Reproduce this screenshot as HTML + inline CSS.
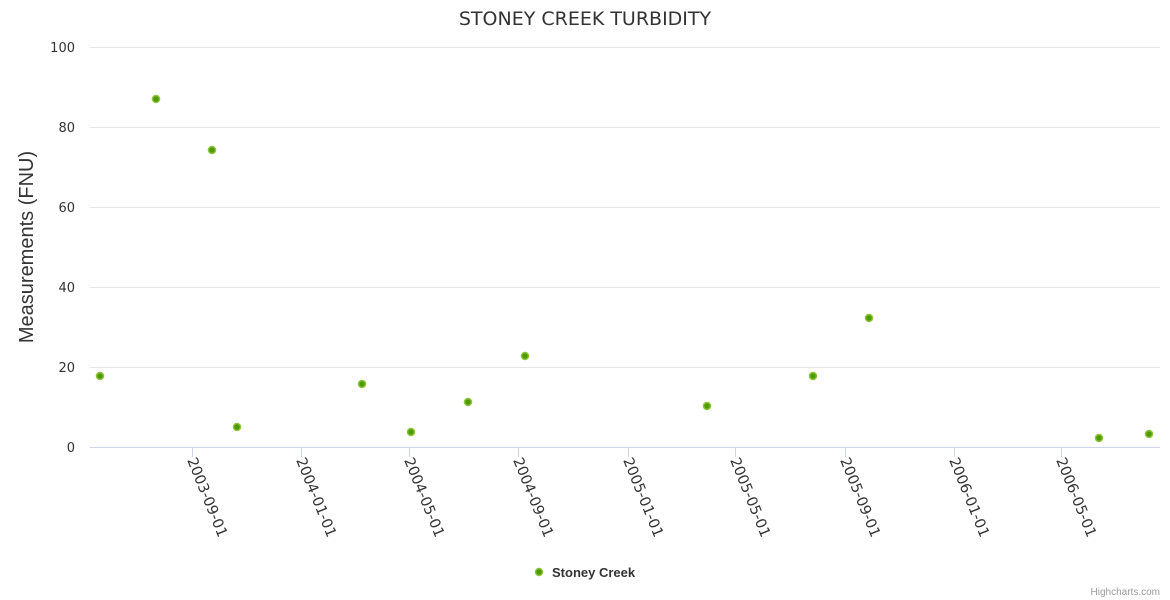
<!DOCTYPE html>
<html><head><meta charset="utf-8"><style>
html,body{margin:0;padding:0;background:#fff;}
svg{display:block;font-family:"Liberation Sans",sans-serif;}
</style></head><body>
<svg width="1170" height="600" viewBox="0 0 1170 600">
<rect width="1170" height="600" fill="#fff"/>
<text x="585" y="25" text-anchor="middle" font-size="19" fill="#333" font-family="DejaVu Sans, sans-serif">STONEY CREEK TURBIDITY</text>
<g stroke="#e6e6e6" stroke-width="1">
<line x1="90" y1="47.5" x2="1160" y2="47.5"/>
<line x1="90" y1="127.5" x2="1160" y2="127.5"/>
<line x1="90" y1="207.5" x2="1160" y2="207.5"/>
<line x1="90" y1="287.5" x2="1160" y2="287.5"/>
<line x1="90" y1="367.5" x2="1160" y2="367.5"/>
</g>
<line x1="90" y1="447.5" x2="1160" y2="447.5" stroke="#ccd6eb"/>
<g font-size="13" fill="#333" text-anchor="end" font-family="DejaVu Sans, sans-serif">
<text x="75" y="52">100</text><text x="75" y="132">80</text><text x="75" y="212">60</text>
<text x="75" y="292">40</text><text x="75" y="372">20</text><text x="75" y="452">0</text>
</g>
<text transform="translate(33,247) rotate(-90)" text-anchor="middle" font-size="20" fill="#333">Measurements (FNU)</text>
<g stroke="#ccd6eb">
<line x1="192.5" y1="447" x2="192.5" y2="457"/><line x1="301.5" y1="447" x2="301.5" y2="457"/>
<line x1="409.5" y1="447" x2="409.5" y2="457"/><line x1="518.5" y1="447" x2="518.5" y2="457"/>
<line x1="628.5" y1="447" x2="628.5" y2="457"/><line x1="735.5" y1="447" x2="735.5" y2="457"/>
<line x1="845.5" y1="447" x2="845.5" y2="457"/><line x1="954.5" y1="447" x2="954.5" y2="457"/>
<line x1="1061.5" y1="447" x2="1061.5" y2="457"/>
</g>
<g font-size="14.5" fill="#333" font-family="DejaVu Sans, sans-serif">
<text transform="translate(187,460) rotate(68)">2003-09-01</text>
<text transform="translate(296,460) rotate(68)">2004-01-01</text>
<text transform="translate(404,460) rotate(68)">2004-05-01</text>
<text transform="translate(513,460) rotate(68)">2004-09-01</text>
<text transform="translate(623,460) rotate(68)">2005-01-01</text>
<text transform="translate(730,460) rotate(68)">2005-05-01</text>
<text transform="translate(840,460) rotate(68)">2005-09-01</text>
<text transform="translate(949,460) rotate(68)">2006-01-01</text>
<text transform="translate(1056,460) rotate(68)">2006-05-01</text>
</g>
<g fill="#4f9a00" stroke="#8cc43a" stroke-width="1.5">
<circle cx="100" cy="376" r="3.5"/><circle cx="156" cy="99" r="3.5"/><circle cx="212" cy="150" r="3.5"/>
<circle cx="237" cy="427" r="3.5"/><circle cx="362" cy="384" r="3.5"/><circle cx="411" cy="432" r="3.5"/>
<circle cx="468" cy="402" r="3.5"/><circle cx="525" cy="356" r="3.5"/><circle cx="707" cy="406" r="3.5"/>
<circle cx="813" cy="376" r="3.5"/><circle cx="869" cy="318" r="3.5"/><circle cx="1099" cy="438" r="3.5"/>
<circle cx="1149" cy="434" r="3.5"/>
<circle cx="539" cy="572" r="3.5"/>
</g>
<text x="552" y="577" font-size="13" font-weight="bold" fill="#333">Stoney Creek</text>
<text x="1160" y="595" text-anchor="end" font-size="10" fill="#999">Highcharts.com</text>
</svg>
</body></html>
